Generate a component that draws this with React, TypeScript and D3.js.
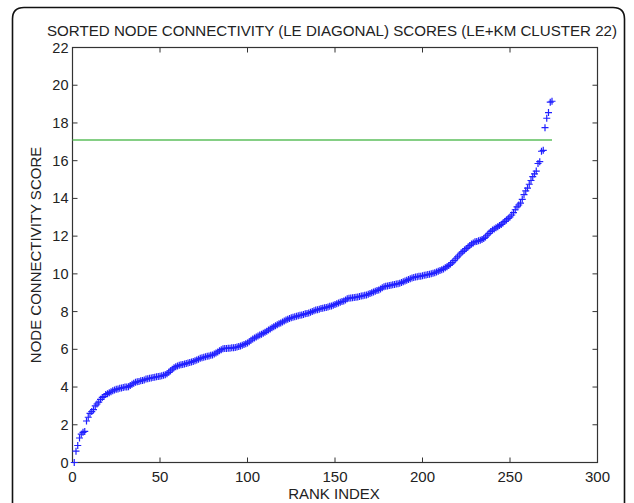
import React from 'react';
import * as d3 from 'd3';

const TITLE = 'SORTED NODE CONNECTIVITY (LE DIAGONAL) SCORES (LE+KM CLUSTER 22)';
const X_LABEL = 'RANK INDEX';
const Y_LABEL = 'NODE CONNECTIVITY SCORE';
const X_TICKS = [0, 50, 100, 150, 200, 250, 300];
const Y_TICKS = [0, 2, 4, 6, 8, 10, 12, 14, 16, 18, 20, 22];
const THRESHOLD = 17.1;

// sorted node connectivity scores, rank 1..274
const scores = [
  0.0, 0.6, 0.9, 1.3, 1.5, 1.6, 1.65, 2.2, 2.4, 2.6,
  2.7, 2.8, 3.0, 3.1, 3.2, 3.35, 3.45, 3.5, 3.6, 3.65,
  3.7, 3.75, 3.8, 3.85, 3.88, 3.9, 3.93, 3.95, 3.97, 4.0,
  4.0, 4.02, 4.08, 4.15, 4.2, 4.25, 4.28, 4.3, 4.33, 4.35,
  4.38, 4.42, 4.44, 4.46, 4.48, 4.5, 4.52, 4.54, 4.56, 4.57,
  4.6, 4.62, 4.65, 4.7, 4.78, 4.86, 4.95, 5.02, 5.08, 5.12,
  5.15, 5.18, 5.2, 5.22, 5.25, 5.28, 5.3, 5.33, 5.36, 5.4,
  5.44, 5.48, 5.52, 5.55, 5.58, 5.6, 5.63, 5.65, 5.68, 5.7,
  5.75, 5.8, 5.86, 5.92, 5.98, 6.03, 6.05, 6.05, 6.06, 6.06,
  6.08, 6.08, 6.1, 6.12, 6.15, 6.18, 6.22, 6.26, 6.3, 6.34,
  6.4, 6.48, 6.55, 6.6, 6.65, 6.7, 6.76, 6.8, 6.85, 6.9,
  6.96, 7.02, 7.08, 7.14, 7.2, 7.25, 7.3, 7.35, 7.4, 7.45,
  7.5, 7.55, 7.6, 7.64, 7.67, 7.7, 7.72, 7.75, 7.78, 7.8,
  7.82, 7.85, 7.88, 7.9, 7.93, 7.96, 8.0, 8.04, 8.08, 8.1,
  8.13, 8.16, 8.18, 8.2, 8.22, 8.25, 8.28, 8.3, 8.34, 8.38,
  8.42, 8.46, 8.5, 8.53, 8.56, 8.62, 8.68, 8.71, 8.72, 8.73,
  8.75, 8.76, 8.78, 8.8, 8.82, 8.84, 8.86, 8.88, 8.92, 8.96,
  9.0, 9.04, 9.08, 9.12, 9.15, 9.2, 9.26, 9.32, 9.34, 9.36,
  9.38, 9.4, 9.42, 9.44, 9.46, 9.48, 9.5, 9.54, 9.58, 9.62,
  9.66, 9.7, 9.74, 9.78, 9.81, 9.83, 9.85, 9.87, 9.88, 9.9,
  9.92, 9.94, 9.96, 9.98, 10.0, 10.03, 10.06, 10.1, 10.14, 10.18,
  10.22, 10.26, 10.32, 10.38, 10.45, 10.52, 10.6, 10.7, 10.8, 10.9,
  11.0, 11.1, 11.18, 11.26, 11.34, 11.42, 11.5, 11.58, 11.64, 11.7,
  11.72, 11.75, 11.78, 11.82, 11.88, 11.95, 12.05, 12.15, 12.25, 12.32,
  12.38, 12.44, 12.5, 12.56, 12.62, 12.7, 12.78, 12.86, 12.94, 13.02,
  13.12, 13.25, 13.4, 13.55, 13.65, 13.75, 13.95, 14.2, 14.4, 14.55,
  14.75, 14.95, 15.15, 15.3, 15.45, 15.85, 15.95, 16.5, 16.55, 17.75,
  18.25, 18.55, 19.1, 19.15,
];

const FONT = '"Liberation Sans", Arial, Helvetica, sans-serif';

export default function App() {
  const W = 634;
  const H = 503;
  const x = d3.scaleLinear().domain([0, 300]).range([72.5, 597.5]);
  const y = d3.scaleLinear().domain([0, 22]).range([462.5, 47.5]);
  const [x0, x1] = x.range();
  const [yb, yt] = y.range();
  const tl = 5;
  const axisColor = '#333';
  const s = 3.5;

  const framePath = `M 12.5 ${H + 20} L 12.5 19 Q 12.5 7.5 24 7.5 L 613 7.5 Q 624.5 7.5 624.5 19 L 624.5 ${H + 20}`;

  return (
    <svg width={W} height={H} style={{ position: 'absolute', left: 0, top: 0, background: '#fff' }} fontFamily={FONT}>
      <rect x={0} y={0} width={W} height={H} fill="#fff" />
      <path d={framePath} fill="none" stroke="#111" strokeWidth={1.6} />

      {/* plot box */}
      <rect x={x0} y={yt} width={x1 - x0} height={yb - yt} fill="none" stroke={axisColor} strokeWidth={1.2} />

      {/* x ticks */}
      {X_TICKS.map((t) => (
        <g key={'xt' + t}>
          <line x1={x(t)} x2={x(t)} y1={yb} y2={yb - tl} stroke={axisColor} strokeWidth={1} />
          <line x1={x(t)} x2={x(t)} y1={yt} y2={yt + tl} stroke={axisColor} strokeWidth={1} />
          <text x={x(t)} y={482} textAnchor="middle" fontSize={15} fill="#222">{t}</text>
        </g>
      ))}
      {/* y ticks */}
      {Y_TICKS.map((t) => (
        <g key={'yt' + t}>
          <line x1={x0} x2={x0 + tl} y1={y(t)} y2={y(t)} stroke={axisColor} strokeWidth={1} />
          <line x1={x1} x2={x1 - tl} y1={y(t)} y2={y(t)} stroke={axisColor} strokeWidth={1} />
          <text x={68.5} y={y(t) + 5} textAnchor="end" fontSize={14.5} fill="#222">{t}</text>
        </g>
      ))}

      {/* threshold line */}
      <line x1={x(0)} x2={x(scores.length)} y1={y(THRESHOLD)} y2={y(THRESHOLD)} stroke="#5cbf5c" strokeWidth={1.5} />

      {/* markers */}
      <g stroke="#2020ff" strokeWidth={1.2} fill="none">
        {scores.map((v, i) => {
          const cx = x(i + 1);
          const cy = y(v);
          return <path key={i} d={`M${cx - s},${cy}H${cx + s}M${cx},${cy - s}V${cy + s}`} />;
        })}
      </g>

      {/* title and labels */}
      <text x={332} y={36} textAnchor="middle" fontSize={15} fill="#222" textLength={570} lengthAdjust="spacingAndGlyphs">{TITLE}</text>
      <text x={(x0 + x1) / 2 - 1} y={499} textAnchor="middle" fontSize={15} fill="#222">{X_LABEL}</text>
      <text transform={`translate(41,255) rotate(-90)`} textAnchor="middle" fontSize={15} fill="#222">{Y_LABEL}</text>
    </svg>
  );
}
